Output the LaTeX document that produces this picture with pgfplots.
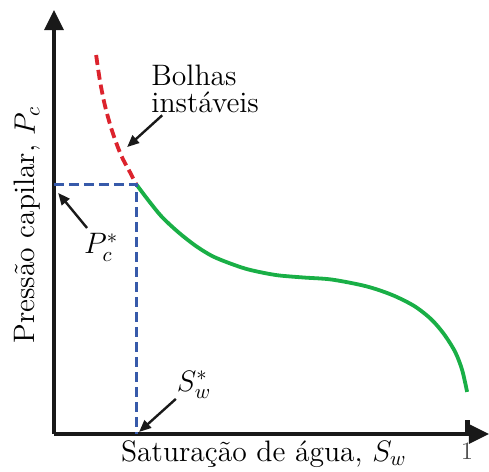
\RequirePackage{fix-cm}
\documentclass[border=0pt]{standalone}
\usepackage{pgfplots}
\pgfplotsset{compat=1.18}
\usetikzlibrary{arrows.meta}

\definecolor{cred}{RGB}{220,35,45}
\definecolor{cgreen}{RGB}{25,175,70}
\definecolor{cblue}{RGB}{55,90,170}
\newcommand\lbl{\fontsize{14.8}{13.5}\selectfont}

\begin{document}
\begin{tikzpicture}
\begin{axis}[
    scale only axis,
    width=217.5pt, height=212pt,
    xmin=0, xmax=1.053,
    ymin=0, ymax=1.027,
    axis lines=left,
    x axis line style={line width=1.6pt, black!90, -{Triangle[length=10pt,width=9.5pt]}},
    y axis line style={line width=1.6pt, black!90, -{Triangle[length=10pt,width=9.5pt]}},
    xtick={1}, ytick=\empty,
    tick align=inside,
    major tick length=7pt,
    every tick/.style={line width=2.5pt, black!90},
    xticklabel style={font=\fontsize{12.5}{13}\selectfont, text=black!70, yshift=-1pt},
    clip=false,
]

% curva instavel (bolhas)
\addplot[cred, line width=1.9pt, dash pattern=on 5pt off 2.5pt, smooth] coordinates {
    (0.102,0.918)(0.111,0.857)(0.123,0.797)(0.140,0.736)(0.162,0.676)(0.184,0.634)(0.199,0.605)
};

% curva de pressao capilar
\addplot[cgreen, line width=1.9pt, smooth] coordinates {
    (0.199,0.605)(0.230,0.564)(0.262,0.525)(0.303,0.487)(0.344,0.455)(0.383,0.431)
    (0.424,0.414)(0.465,0.400)(0.504,0.391)(0.545,0.384)(0.605,0.379)(0.673,0.374)
    (0.755,0.358)(0.818,0.337)(0.872,0.310)(0.913,0.278)(0.944,0.242)(0.971,0.199)
    (0.988,0.155)(1.000,0.102)
};

% ponto critico
\addplot[cblue, line width=1.6pt, dash pattern=on 5pt off 2.5pt] coordinates {
    (0,0.605)(0.199,0.605)(0.199,0)
};

\node[anchor=north west, inner sep=0pt, align=left, font=\lbl] at (axis cs:0.235,0.896) {Bolhas\\instáveis};
\draw[line width=1.2pt, black!90, -{Triangle[length=6pt,width=5pt]}]
    (axis cs:0.262,0.772) -- (axis cs:0.177,0.695);

\node[font=\lbl] at (axis cs:0.114,0.452) {$P_c^*$};
\draw[line width=1.2pt, black!90, -{Triangle[length=6pt,width=5pt]}]
    (axis cs:0.080,0.499) -- (axis cs:0.010,0.584);

\node[font=\lbl] at (axis cs:0.339,0.119) {$S_w^*$};
\draw[line width=1.2pt, black!90, -{Triangle[length=6pt,width=5pt]}]
    (axis cs:0.295,0.085) -- (axis cs:0.206,0.005);

\node[anchor=base, font=\lbl] at (axis cs:0.508,-0.066) {Saturação de água, $S_w$};
\node[anchor=base, rotate=90, font=\lbl] at (axis cs:-0.046,0.506) {Pressão capilar, $P_c$};

\end{axis}
\pgfresetboundingbox
\path (-27pt,-19pt) rectangle (217.5pt,217pt);
\end{tikzpicture}
\end{document}
